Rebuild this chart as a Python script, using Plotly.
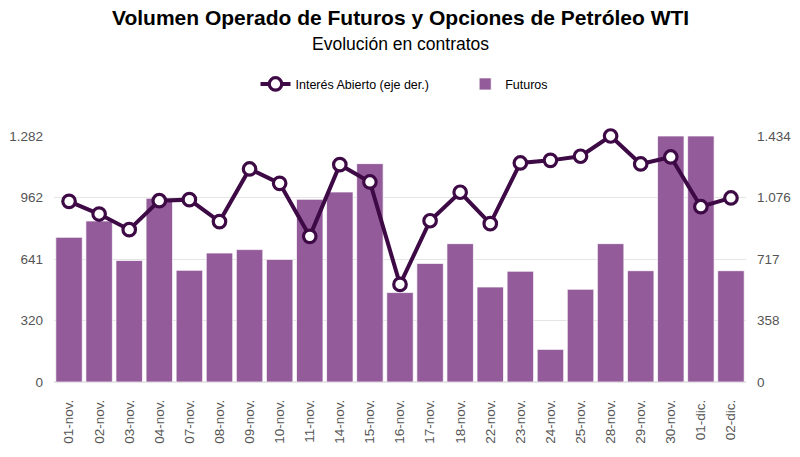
import plotly.graph_objects as go

categories = ["01-nov.", "02-nov.", "03-nov.", "04-nov.", "07-nov.", "08-nov.", "09-nov.",
              "10-nov.", "11-nov.", "14-nov.", "15-nov.", "16-nov.", "17-nov.", "18-nov.",
              "22-nov.", "23-nov.", "24-nov.", "25-nov.", "28-nov.", "29-nov.", "30-nov.",
              "01-dic.", "02-dic."]

futuros = [754, 839, 633, 957, 582, 672, 690, 639, 952, 990, 1138, 466,
           618, 721, 495, 577, 170, 483, 721, 580, 1282, 1282, 580]
interes_abierto = [1053, 979, 888, 1057, 1063, 935, 1242, 1158, 849, 1267, 1166, 569,
                   940, 1106, 923, 1277, 1292, 1316, 1434, 1271, 1312, 1022, 1073]

left_ticks = [0, 320.5, 641, 961.5, 1282]
left_labels = ["0", "320", "641", "962", "1.282"]
right_ticks = [0, 358.5, 717, 1075.5, 1434]
right_labels = ["0", "358", "717", "1.076", "1.434"]

title_text = "Volumen Operado de Futuros y Opciones de Petróleo WTI"
subtitle_text = "Evolución en contratos"
line_name = "Interés Abierto (eje der.)"
bar_name = "Futuros"

FONT = "Liberation Sans, Arial, sans-serif"

fig = go.Figure()
fig.add_trace(go.Bar(
    x=categories, y=futuros, name=bar_name,
    marker=dict(color="#935B9A", line=dict(color="rgba(255,255,255,0.7)", width=1)),
))
fig.add_trace(go.Scatter(
    x=categories, y=interes_abierto, name=line_name + "\u00a0" * 9,
    mode="lines+markers", yaxis="y2", cliponaxis=False,
    line=dict(color="#3D0A45", width=4),
    marker=dict(size=12.5, color="white", line=dict(color="#3D0A45", width=3.2)),
))

fig.update_layout(
    width=800, height=457,
    paper_bgcolor="white", plot_bgcolor="white",
    margin=dict(l=54, r=54, t=136, b=75, autoexpand=False),
    font=dict(family=FONT, size=12, color="#555555"),
    bargap=0.12,
    showlegend=True,
    legend=dict(
        orientation="h", x=0.5 + 4.5 / 692, xanchor="center", y=1.21, yanchor="middle",
        traceorder="reversed",
        font=dict(family=FONT, size=12.5, color="#000000"),
    ),
    xaxis=dict(
        range=[-0.5, len(categories) - 0.5],
        tickangle=-90, tickfont=dict(size=13.5, color="#555555"),
        showgrid=False, showline=False, ticks="", automargin=False,
        ticklabelstandoff=14,
    ),
    yaxis=dict(
        range=[0, 1282], tickvals=left_ticks, ticktext=left_labels,
        showgrid=True, gridcolor="#E5E5E5", gridwidth=1, zeroline=True,
        zerolinecolor="#E5E5E5", tickfont=dict(size=13.5, color="#555555"),
        ticks="", ticklabelstandoff=10, automargin=False,
    ),
    yaxis2=dict(
        range=[0, 1434], tickvals=right_ticks, ticktext=right_labels,
        overlaying="y", side="right", showgrid=False, zeroline=False,
        tickfont=dict(size=13.5, color="#555555"), ticks="", ticklabelstandoff=10,
        automargin=False,
    ),
    annotations=[
        dict(text="<b>" + title_text + "</b>", xref="paper", yref="paper",
             x=0.5, y=1.48, xanchor="center", yanchor="middle", showarrow=False,
             font=dict(family=FONT, size=21, color="#000000")),
        dict(text=subtitle_text, xref="paper", yref="paper",
             x=0.5, y=1.374, xanchor="center", yanchor="middle", showarrow=False,
             font=dict(family=FONT, size=17.5, color="#000000")),
    ],
)

fig.write_html("out.html", config={"displayModeBar": False},
               post_script="document.body.style.margin='0';")
